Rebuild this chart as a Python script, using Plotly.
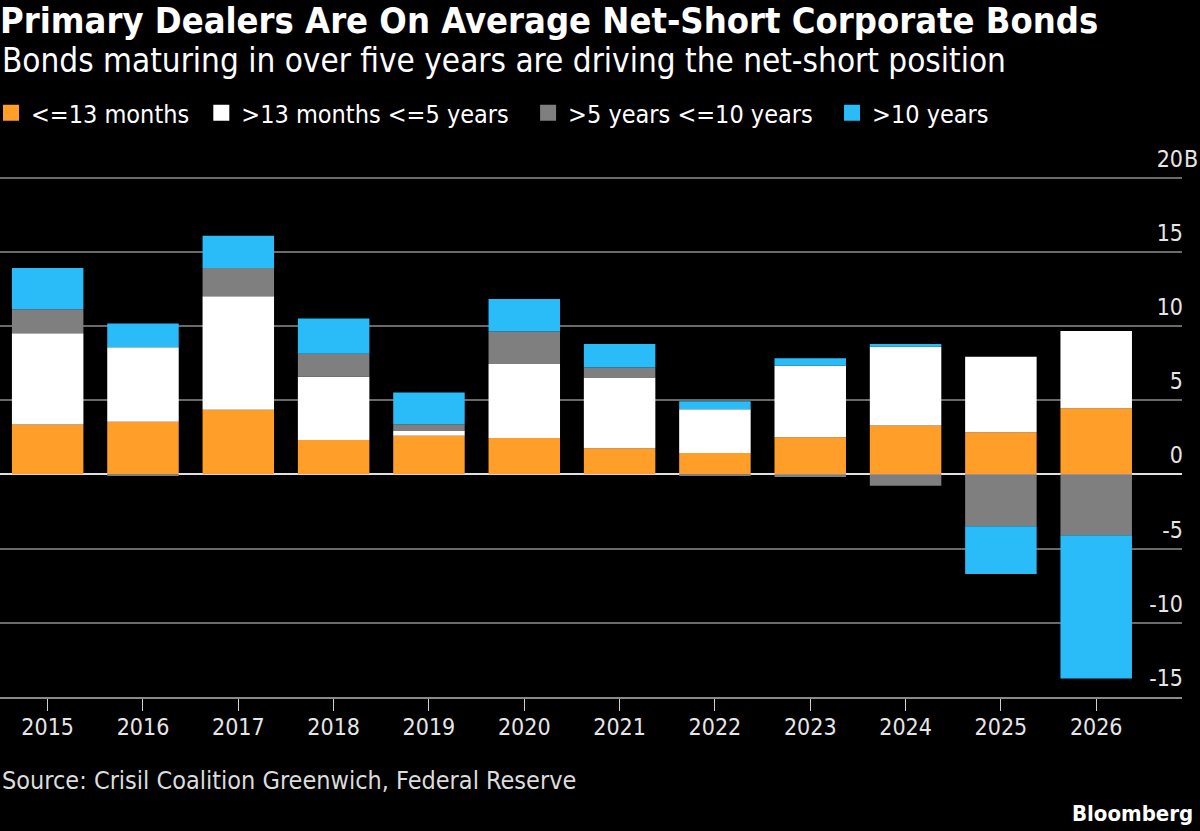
import plotly.graph_objects as go

# Data (billions of dollars)
years = ['2015', '2016', '2017', '2018', '2019', '2020',
         '2021', '2022', '2023', '2024', '2025', '2026']
under_13m = [3.36, 3.54, 4.35, 2.32, 2.61, 2.45, 1.76, 1.44, 2.50, 3.29, 2.84, 4.46]
m13_to_5y = [6.14, 5.02, 7.65, 4.26, 0.32, 4.98, 4.77, 2.95, 4.82, 5.31, 5.09, 5.20]
y5_to_10y = [1.63, -0.10, 1.90, 1.55, 0.45, 2.19, 0.67, -0.10, -0.18, -0.77, -3.49, -4.10]
over_10y = [2.77, 1.60, 2.18, 2.37, 2.14, 2.20, 1.58, 0.54, 0.50, 0.18, -3.22, -9.66]

series_names = ['<=13 months', '>13 months <=5 years', '>5 years <=10 years', '>10 years']
tick_vals = [-15, -10, -5, 0, 5, 10, 15, 20]
tick_text = ['-15', '-10', '-5', '0', '5', '10', '15', '20']

colors = ['#FF9F2A', '#FFFFFF', '#7F7F7F', '#29BCF9']
FONT = 'Liberation Sans Narrow, DejaVu Sans Condensed, Arial Narrow, sans-serif'
NB = '\u00a0'
legend_pad = [NB, NB * 2, NB * 2, '']

# plot area spans y pixels 133..697 (range -15..23)
PLOT_TOP, PLOT_BOT = 133, 697


def py(pix):
    # pixel row -> paper y
    return (PLOT_BOT - pix) / (PLOT_BOT - PLOT_TOP)


fig = go.Figure()
for name, vals, col in zip(series_names, [under_13m, m13_to_5y, y5_to_10y, over_10y], colors):
    fig.add_trace(go.Bar(x=years, y=vals, name=name, marker_color=col,
                         marker_line_width=0, showlegend=False))

# legend-only entries so the swatches can be a bit bigger
for name, col, pad in zip(series_names, colors, legend_pad):
    fig.add_trace(go.Scatter(x=[None], y=[None], mode='markers', name=name + pad,
                             marker=dict(symbol='square', size=16, color=col),
                             showlegend=True))

fig.update_layout(
    barmode='relative',
    bargap=0.25,
    width=1200,
    height=831,
    paper_bgcolor='black',
    plot_bgcolor='black',
    margin=dict(l=0, r=18, t=PLOT_TOP, b=831 - PLOT_BOT, autoexpand=False),
    font=dict(family=FONT, color='white'),
    title=dict(
        text='<b>Primary Dealers Are On Average Net-Short Corporate Bonds</b>',
        x=0, xanchor='left', xref='container',
        y=1 - 20 / 831, yanchor='middle', yref='container',
        font=dict(size=36, color='white', family=FONT),
    ),
    legend=dict(
        orientation='h', x=-9 / 1182, xanchor='left',
        y=py(113), yanchor='middle',
        font=dict(size=25, color='white'), bgcolor='rgba(0,0,0,0)',
        itemwidth=30, itemsizing='trace', traceorder='normal',
    ),
)

fig.update_xaxes(
    type='category',
    range=[-0.5, 11.9],
    showgrid=False,
    showline=True, linecolor='#8a8a8a', linewidth=1.5,
    ticks='outside', ticklen=12, tickcolor='#cfcfcf', tickwidth=1,
    ticklabelstandoff=-3,
    tickfont=dict(size=23, color='#e6e6e6'),
    fixedrange=True,
)

fig.update_yaxes(
    range=[-15, 23],
    side='right',
    tickvals=tick_vals,
    ticktext=tick_text,
    ticklabelposition='inside',
    ticklabelshift=-19,
    ticklabelstandoff=-4,
    ticks='',
    showgrid=True, gridcolor='#6a6a6a', gridwidth=1.5,
    zeroline=True, zerolinecolor='#e0e0e0', zerolinewidth=2,
    tickfont=dict(size=23, color='#e6e6e6'),
    fixedrange=True,
)

fig.add_annotation(text='Bonds maturing in over five years are driving the net-short position',
                   xref='paper', yref='paper', x=0, y=py(60),
                   xanchor='left', yanchor='middle', showarrow=False,
                   font=dict(size=33, color='white'))
fig.add_annotation(text='B', xref='paper', yref='y', x=1, y=20, yshift=19,
                   xanchor='left', yanchor='middle', showarrow=False,
                   font=dict(size=23, color='#e6e6e6'))
fig.add_annotation(text='Source: Crisil Coalition Greenwich, Federal Reserve',
                   xref='paper', yref='paper', x=0, y=py(780),
                   xanchor='left', yanchor='middle', showarrow=False,
                   font=dict(size=25, color='#dcdcdc'))
fig.add_annotation(text='<b>Bloomberg</b>',
                   xref='paper', yref='paper', x=1195 / 1182, y=py(813),
                   xanchor='right', yanchor='middle', showarrow=False,
                   font=dict(size=22, color='white'))

fig.write_html("out.html", config={'displayModeBar': False},
               post_script="document.body.style.margin = '0';")
